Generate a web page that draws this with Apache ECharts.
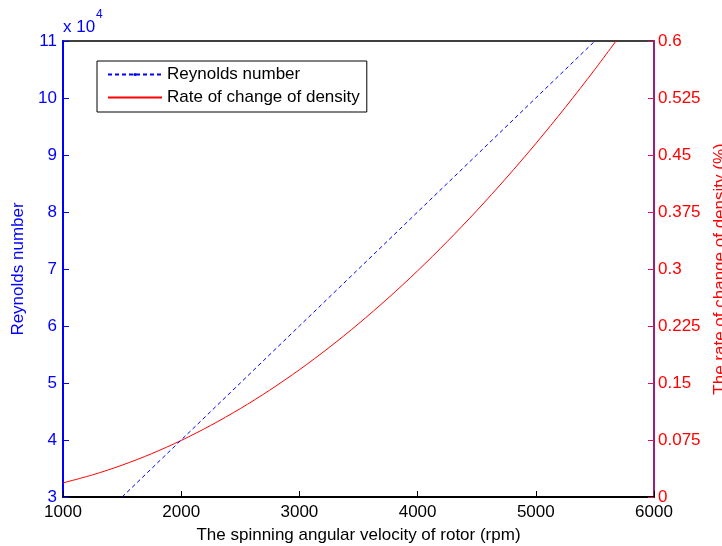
<!DOCTYPE html>
<html>
<head>
<meta charset="utf-8">
<script src="https://cdn.jsdelivr.net/npm/echarts@6/dist/echarts.min.js"></script>
<style>
  html, body { margin: 0; padding: 0; background: #fff; }
  #chart { width: 722px; height: 546px; }
</style>
</head>
<body>
<div id="chart"></div>
<script>
// Rotor speed (rpm) and the two quantities plotted against it
const rpm = [1000, 1250, 1500, 1750, 2000, 2250, 2500, 2750, 3000, 3250, 3500,
             3750, 4000, 4250, 4500, 4750, 5000, 5250, 5500, 5750];
const densityChange = [0.0186, 0.0291, 0.0419, 0.0570, 0.0744, 0.0942, 0.1163, 0.1407,
                       0.1674, 0.1965, 0.2279, 0.2616, 0.2976, 0.3360, 0.3767, 0.4197,
                       0.4650, 0.5127, 0.5627, 0.6150];
const reRpm = [1500, 2000, 2500, 3000, 3500, 4000, 4500, 5000, 5500];
const reynolds = [30000, 40000, 50000, 60000, 70000, 80000, 90000, 100000, 110000];

const xTicks = [1000, 2000, 3000, 4000, 5000, 6000];
const leftTicks = [3, 4, 5, 6, 7, 8, 9, 10, 11];
const rightTicks = ['0', '0.075', '0.15', '0.225', '0.3', '0.375', '0.45', '0.525', '0.6'];

const FONT = "'Liberation Sans', Arial, Helvetica, sans-serif";
const FS = 17;

const chart = echarts.init(document.getElementById('chart'), null, { renderer: 'canvas' });

chart.setOption({
  animation: false,
  backgroundColor: '#fff',
  textStyle: { fontFamily: FONT },
  grid: {
    left: 63, right: 68, top: 41, bottom: 49,
    outerBoundsMode: 'none',
    containLabel: false,
    show: true, borderColor: '#000', borderWidth: 1.5, backgroundColor: 'transparent'
  },
  legend: {
    left: 97, top: 61,
    orient: 'vertical',
    padding: [5, 7, 6, 10],
    itemGap: 6,
    itemWidth: 54,
    itemHeight: 4,
    backgroundColor: '#fff',
    borderColor: '#000',
    borderWidth: 1,
    borderRadius: 0,
    textStyle: { fontFamily: FONT, fontSize: FS, color: '#000', lineHeight: 17 },
    data: [
      { name: 'Reynolds number' },
      { name: 'Rate of change of density', itemStyle: { color: 'rgba(0,0,0,0)', borderWidth: 0 } }
    ]
  },
  xAxis: {
    type: 'value',
    min: 1000, max: 6000, interval: 1000,
    name: 'The spinning angular velocity of rotor (rpm)',
    nameLocation: 'middle', nameGap: 30,
    nameTextStyle: { fontFamily: FONT, fontSize: FS, color: '#000' },
    axisLine: { show: true, onZero: false, lineStyle: { color: '#000', width: 2 } },
    axisTick: { show: true, inside: true, length: 6, lineStyle: { color: '#000', width: 1 } },
    axisLabel: {
      fontFamily: FONT, fontSize: FS, color: '#000', margin: 7,
      formatter: v => (xTicks.indexOf(v) >= 0 ? String(v) : '')
    },
    splitLine: { show: false }
  },
  yAxis: [
    {
      type: 'value', position: 'left',
      min: 3, max: 11, interval: 1,
      name: 'Reynolds number',
      nameLocation: 'middle', nameGap: 35, nameRotate: 90,
      nameTextStyle: { fontFamily: FONT, fontSize: FS, color: '#0000ff' },
      axisLine: { show: true, lineStyle: { color: '#0000ff', width: 2 } },
      axisTick: { show: true, inside: true, length: 6, lineStyle: { color: '#0000ff', width: 1 } },
      axisLabel: {
        fontFamily: FONT, fontSize: FS, color: '#0000ff', margin: 6,
        formatter: v => (leftTicks.indexOf(v) >= 0 ? String(v) : '')
      },
      splitLine: { show: false }
    },
    {
      type: 'value', position: 'right',
      min: 0, max: 0.6, interval: 0.075,
      name: 'The rate of change of density (%)',
      nameLocation: 'middle', nameGap: 53, nameRotate: 90,
      nameTextStyle: { fontFamily: FONT, fontSize: FS, color: '#ff0000' },
      axisLine: { show: true, lineStyle: { color: '#991f7f', width: 2 } },
      axisTick: { show: true, inside: true, length: 6, lineStyle: { color: '#cc1460', width: 1 } },
      axisLabel: {
        fontFamily: FONT, fontSize: FS, color: '#ff0000', margin: 4,
        formatter: (v, i) => rightTicks[i]
      },
      splitLine: { show: false }
    }
  ],
  graphic: [
    { type: 'text', left: 63, top: 19, style: { text: 'x 10', fontFamily: FONT, fontSize: FS, fill: '#0000ff' } },
    { type: 'text', left: 96, top: 9, style: { text: '4', fontFamily: FONT, fontSize: 12, fill: '#0000ff' } }
  ],
  series: [
    {
      name: 'Reynolds number',
      type: 'line',
      yAxisIndex: 0,
      data: reRpm.map((r, i) => [r, reynolds[i] / 10000]),
      symbol: 'circle', symbolSize: 3, showSymbol: false,
      itemStyle: { color: '#0000ff' },
      lineStyle: { color: '#0000ff', width: 1, type: [4, 3] },
      clip: true,
      z: 3
    },
    {
      name: 'Rate of change of density',
      type: 'line',
      yAxisIndex: 1,
      data: rpm.map((r, i) => [r, densityChange[i]]),
      symbol: 'none', smooth: 0.3,
      itemStyle: { color: '#ff0000' },
      lineStyle: { color: '#ff0000', width: 1 },
      clip: true,
      z: 2
    }
  ]
});
</script>
</body>
</html>
